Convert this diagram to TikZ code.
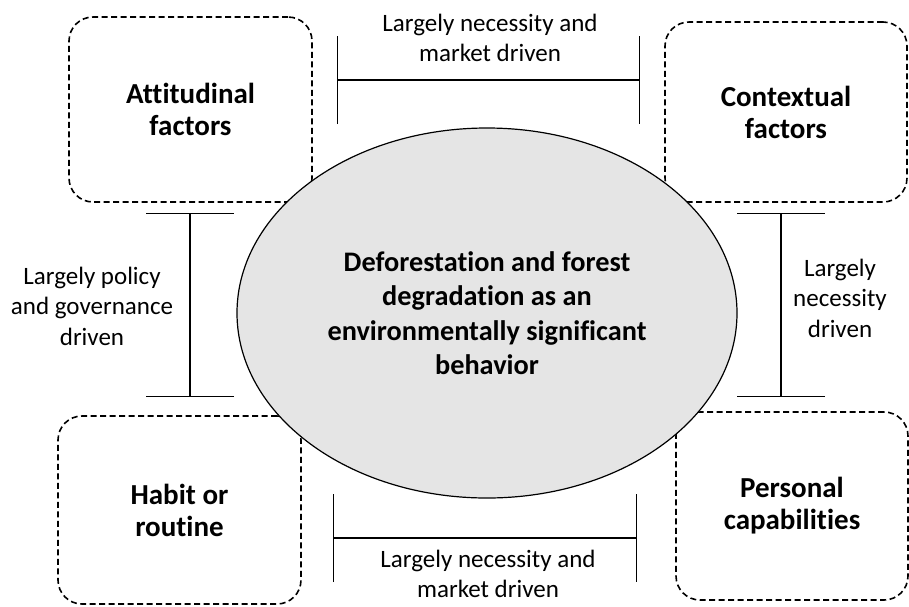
\documentclass[tikz,border=0pt]{standalone}
\usepackage{fontspec}
\setmainfont{Carlito}[Ligatures=NoCommon]
\usetikzlibrary{arrows.meta,shapes.geometric}

\tikzset{
    factor/.style={draw, dashed, dash pattern=on 6pt off 3.5pt, line width=1.6pt,
        rounded corners=24pt, align=center, inner sep=0pt,
        font=\bfseries\fontsize{29}{32}\selectfont},
    span/.style={line width=1.2pt, {Bar[width=88pt]}-{Bar[width=88pt]}},
    note/.style={align=center, font=\fontsize{25}{30.5}\selectfont}
}

\begin{document}
\begin{tikzpicture}[x=1pt, y=-1pt]
    \useasboundingbox (0,0) rectangle (909,606);

    \node (att) [factor, minimum width=243pt, minimum height=185pt] at (190.5,109.5) {Attitudinal\\factors};
    \node (ctx) [factor, minimum width=242pt, minimum height=180pt] at (786,112) {Contextual\\factors};
    \node (hab) [factor, minimum width=243pt, minimum height=188pt] at (179.5,510) {Habit or\\routine};
    \node (per) [factor, minimum width=232pt, minimum height=188pt] at (792,506) {Personal\\capabilities};

    \node (core) [ellipse, draw, line width=1.2pt, fill=black!10, minimum width=500pt,
        minimum height=370pt, inner sep=0pt, align=center,
        font=\bfseries\fontsize{28.3}{34.5}\selectfont] at (487,313)
        {Deforestation and forest\\degradation as an\\environmentally significant\\behavior};

    \coordinate (t1) at (337,80);
    \coordinate (t2) at (640,80);
    \coordinate (b1) at (333,538);
    \coordinate (b2) at (637,538);
    \coordinate (l1) at (190,213);
    \coordinate (l2) at (190,397);
    \coordinate (r1) at (781,213);
    \coordinate (r2) at (781,397);

    \draw[span] (t1) -- (t2);
    \draw[span] (b1) -- (b2);
    \draw[span] (l1) -- (l2);
    \draw[span] (r1) -- (r2);

    \node (ttext) [note] at (490,38) {Largely necessity and\\market driven};
    \node (btext) [note] at (488,574) {Largely necessity and\\market driven};
    \node (ltext) [note] at (92,306) {Largely policy\\and governance\\driven};
    \node (rtext) [note] at (840,298) {Largely\\necessity\\driven};

\end{tikzpicture}
\end{document}
